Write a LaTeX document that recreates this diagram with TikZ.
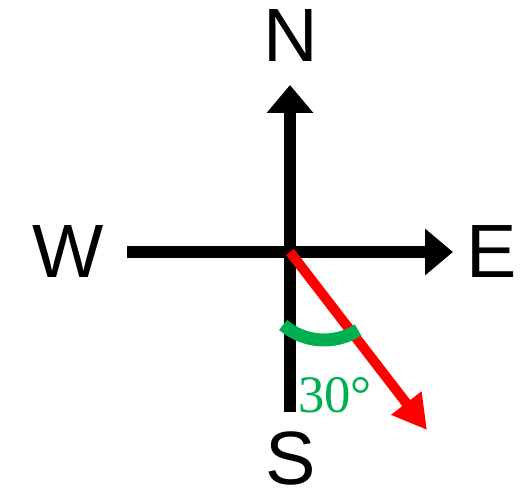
\documentclass[tikz,border=0pt]{standalone}
\usepackage{fontspec}
\setmainfont{Liberation Serif}
\newfontfamily\compassfont{Liberation Sans}
\usepackage{xcolor}
\usetikzlibrary{arrows.meta}

\definecolor{bearred}{RGB}{255,0,0}
\definecolor{anggreen}{RGB}{0,176,80}

\begin{document}
\begin{tikzpicture}[
  x=0.02cm, y=-0.02cm,
  axis/.style={line width=0.24cm, black},
  axisarrow/.style={axis, -{Triangle[length=0.56cm, width=0.9cm]}},
  bearing/.style={line width=0.2cm, bearred, -{Triangle[length=0.68cm, width=0.72cm]}},
  angmark/.style={line width=0.26cm, anggreen},
  dirlabel/.style={font=\compassfont\fontsize{43}{43}\selectfont, inner sep=0pt},
  anglabel/.style={font=\fontsize{30}{30}\selectfont, text=anggreen, inner sep=0pt}
]
\useasboundingbox (0,0) rectangle (523,493);

% compass points
\coordinate (o) at (290,252);
\coordinate (ntip) at (290,85);
\coordinate (sbot) at (290,412);
\coordinate (wend) at (127,252);
\coordinate (etip) at (453,252);
\coordinate (btip) at (427,430);

\node[dirlabel] (n) at (291,36) {N};
\node[dirlabel] (s) at (291,458) {S};
\node[dirlabel] (w) at (68,252) {W};
\node[dirlabel] (e) at (492,252) {E};

\draw[axisarrow] (sbot) -- (ntip);
\draw[axisarrow] (wend) -- (etip);

% bearing line and angle
\draw[bearing] (o) -- (btip);
\draw[angmark] (324,277) ++(130.5:63) arc[start angle=130.5, end angle=57.3, radius=63];
\node[anglabel] (ang) at (335,395) {30°};
\end{tikzpicture}
\end{document}
